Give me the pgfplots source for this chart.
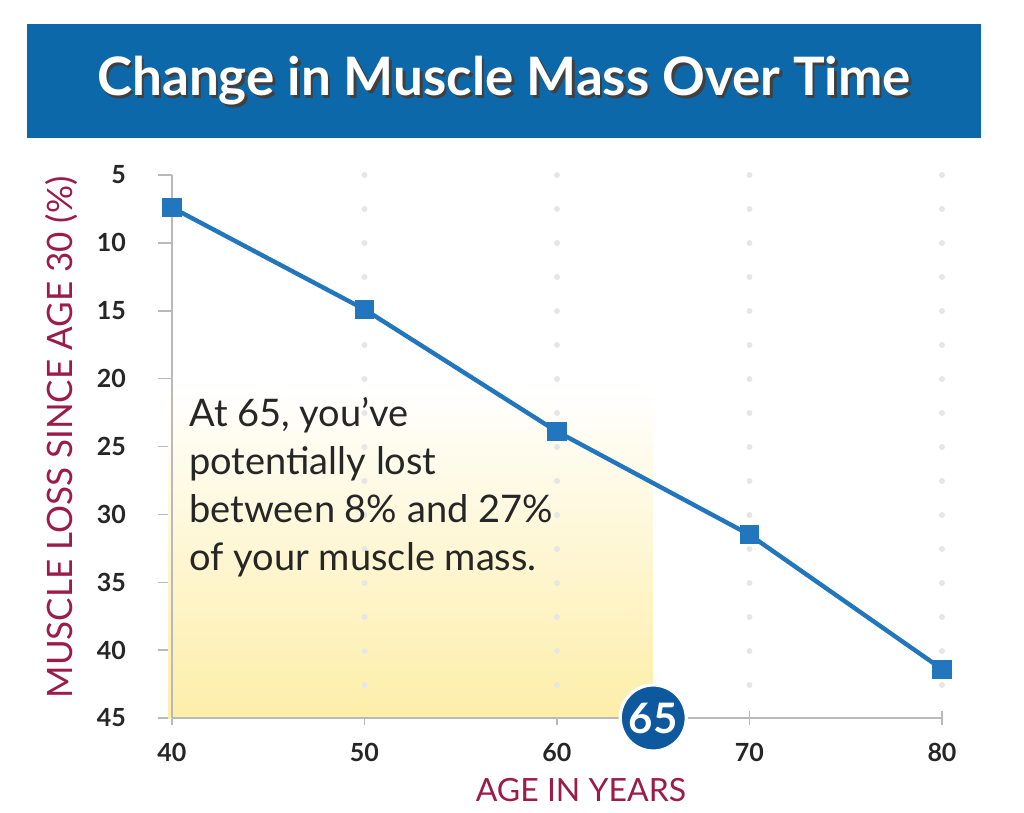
\documentclass[border=0pt]{standalone}
\usepackage{pgfplots}
\pgfplotsset{compat=1.18}
\usepackage{fontspec}
\setmainfont{Lato}
\definecolor{banner}{RGB}{12,104,168}
\definecolor{linec}{RGB}{33,118,190}
\definecolor{crim}{RGB}{155,28,72}
\definecolor{circ}{RGB}{14,88,158}
\definecolor{txt}{RGB}{38,38,38}
\definecolor{yel}{RGB}{253,238,168}
\definecolor{axisgray}{RGB}{185,185,185}
\definecolor{dotgray}{RGB}{230,230,230}
\begin{document}
\begin{tikzpicture}
\path[use as bounding box] (0,0) rectangle (512pt,406.5pt);
\fill[banner] (13.5pt,337.5pt) rectangle (490.5pt,394.5pt);
\node[text=black!75, font=\fontsize{26.5}{30}\selectfont\bfseries] at (253.3pt,364.8pt) {Change in Muscle Mass Over Time};
\node[text=white, font=\fontsize{26.5}{30}\selectfont\bfseries] at (252pt,366pt) {Change in Muscle Mass Over Time};
\begin{axis}[
  at={(86pt,47.5pt)}, anchor=south west,
  scale only axis, width=385pt, height=271.5pt,
  xmin=40, xmax=80, ymin=5, ymax=45,
  y dir=reverse,
  axis x line=bottom, axis y line=left,
  axis line style={draw=axisgray, line width=0.75pt, -},
  xtick={40,50,60,70,80},
  ytick={5,10,15,20,25,30,35,40,45},
  major tick length=7pt,
  ytick align=outside,
  xtick align=center,
  tick style={draw=axisgray, line width=0.75pt},
  ticklabel style={font=\fontsize{12.5}{14}\selectfont\bfseries, text=txt},
  /pgf/number format/assume math mode=true,
  xticklabel style={yshift=-5.5pt},
  yticklabel style={xshift=-12.5pt},
  xlabel={AGE IN YEARS},
  ylabel={MUSCLE LOSS SINCE AGE 30 (\%)},
  label style={text=crim},
  xlabel style={font=\fontsize{16}{18}\selectfont, yshift=-1.5pt, xshift=12pt},
  ylabel style={font=\fontsize{17.5}{19}\selectfont, at={(rel axis cs:-0.1429,0.5)}, anchor=center, xshift=4.5pt},
  clip=false,
]
\addplot[draw=none, top color=white, bottom color=yel, forget plot]
  coordinates {(39.8,20.5) (65,20.5) (65,45) (39.8,45)} -- cycle;
\draw[axisgray, line width=0.75pt] (axis cs:40,5) -- (axis cs:40,45);
\draw[axisgray, line width=0.75pt] (axis cs:40,45) -- (axis cs:80,45);
\foreach \g in {50,60,70,80}{
  \edef\tmp{\noexpand\draw[dotgray, line width=3pt, line cap=round, dash pattern=on 0pt off 17pt] (axis cs:\g,5) -- (axis cs:\g,44);}
  \tmp
}
\addplot[color=linec, line width=2.2pt, mark=square*, mark size=3.7pt, mark options={solid}]
  coordinates {(40,7.4) (50,14.9) (60,23.9) (70,31.5) (80,41.4)};
\node[circle, fill=circ, draw=white, line width=1.6pt, minimum size=33pt, inner sep=0pt,
      text=white, font=\fontsize{21}{22}\selectfont\bfseries] at (axis cs:65,45) {65};
\end{axis}
\node[anchor=north west, align=left, inner sep=0pt, text=txt,
      font=\fontsize{19}{24}\selectfont] at (94.5pt,208pt)
  {At 65, you’ve\\potentially lost\\between 8\% and 27\%\\of your muscle mass.};
\end{tikzpicture}
\end{document}
